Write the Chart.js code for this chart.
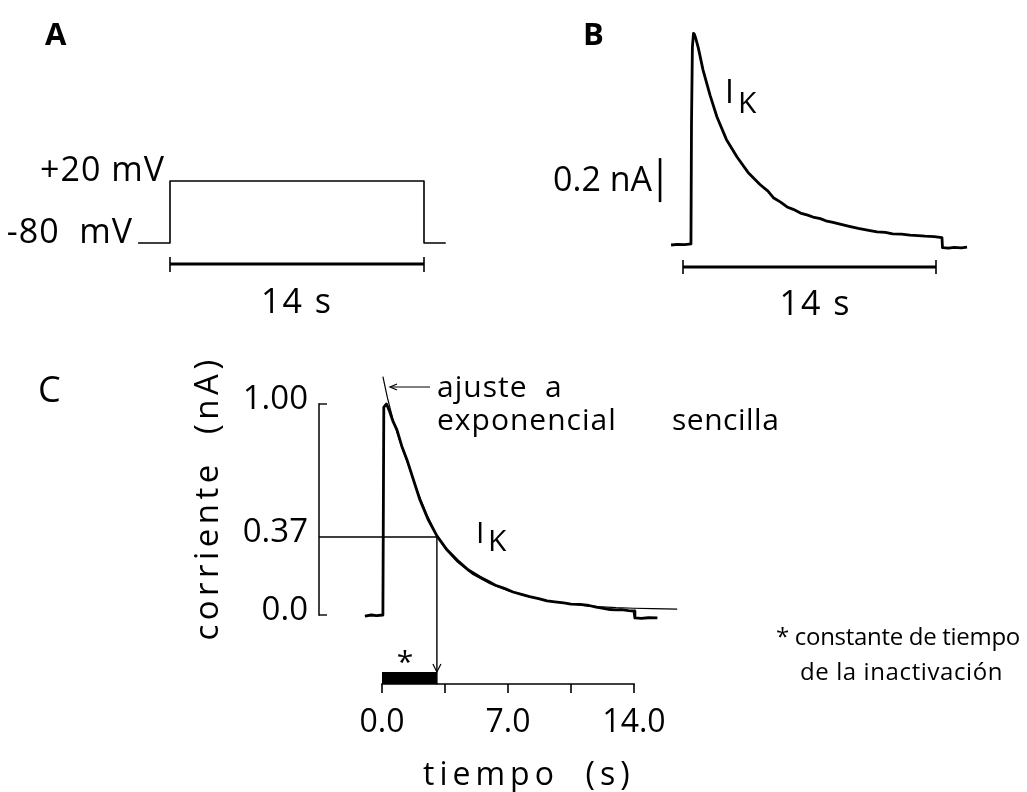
<!DOCTYPE html>
<html><head><meta charset="utf-8">
<script src="https://cdn.jsdelivr.net/npm/chart.js@4.4.1/dist/chart.umd.min.js"></script>
<style>html,body{margin:0;padding:0;background:#fff;} canvas{display:block;}</style>
</head><body>
<canvas id="fig" width="1027" height="792"></canvas>
<script>
// ================= DATA =================
// Panel A: voltage protocol (time in s, voltage in mV)
const stepTimeA = [-1.76, 0, 0, 14, 14, 15.2];
const stepVoltA = [-80, -80, 20, 20, -80, -80];
const stepLabelsA = ['+20 mV', '-80  mV'];
const durationLabel = '14 s';
const durationSec = 14;

// Panel B: current trace I_K (time in s, current in nA)
const traceTimeB = [-0.66, -0.3, 0.1, 0.44, 0.47, 0.52, 0.58, 0.63, 0.72, 0.85, 1.11, 1.5, 1.88, 2.4, 2.99, 3.6, 4.26, 4.7, 5.0, 5.4, 5.76, 6.1, 6.5, 6.9, 7.19, 7.6, 7.9, 8.3, 8.69, 9.2, 9.7, 10.2, 10.74, 11.2, 11.6, 12.1, 12.56, 13.0, 13.4, 13.9, 14.33, 14.36, 14.7, 15.0, 15.4, 15.72];
const traceCurrB = [0.0, 0.003, 0.002, 0.005, 0.55, 0.9, 0.962, 0.958, 0.935, 0.895, 0.795, 0.68, 0.582, 0.48, 0.40, 0.33, 0.275, 0.245, 0.215, 0.195, 0.173, 0.162, 0.145, 0.136, 0.127, 0.12, 0.11, 0.103, 0.095, 0.085, 0.076, 0.068, 0.06, 0.057, 0.051, 0.049, 0.045, 0.043, 0.04, 0.038, 0.034, -0.012, -0.014, -0.011, -0.013, -0.01];
const scaleBarB = 0.2;
const scaleBarLabelB = '0.2 nA';

// Panel C: normalised current and single exponential fit
const traceTimeC = [-0.95, -0.6, -0.3, 0.05, 0.1, 0.25, 0.4, 0.6, 0.83, 1.1, 1.39, 1.75, 2.11, 2.55, 3.05, 3.6, 4.17, 4.8, 5.44, 5.9, 6.3, 6.8, 7.28, 7.7, 8.2, 8.7, 9.17, 9.6, 10.1, 10.5, 11.0, 11.5, 11.9, 12.3, 12.67, 13.0, 13.3, 13.7, 14.0, 14.05, 14.4, 14.8, 15.3];
const traceCurrC = [-0.005, 0.0, -0.003, 0.0, 0.985, 1.0, 0.97, 0.92, 0.877, 0.80, 0.735, 0.64, 0.545, 0.455, 0.375, 0.31, 0.261, 0.213, 0.18, 0.16, 0.141, 0.126, 0.109, 0.099, 0.087, 0.078, 0.067, 0.062, 0.057, 0.052, 0.05, 0.045, 0.037, 0.031, 0.026, 0.024, 0.025, 0.021, 0.019, -0.014, -0.016, -0.013, -0.014];
const fitTimeC = [0.05, 0.3, 0.6, 1.0, 1.5, 2.0, 2.5, 3.05, 3.6, 4.2, 5.0, 6.0, 7.0, 8.0, 9.0, 10.0, 11.0, 12.0, 13.0, 14.0, 15.0, 16.4];
const fitCurrC = [1.13, 1.03, 0.93, 0.82, 0.70, 0.58, 0.475, 0.375, 0.305, 0.25, 0.195, 0.148, 0.115, 0.09, 0.07, 0.057, 0.047, 0.04, 0.035, 0.032, 0.03, 0.028];
const tauC = 3.05;
const levelC = 0.37;
const xTicksC = [0, 3.5, 7, 10.5, 14];
const xTickLabelsC = ['0.0', '', '7.0', '', '14.0'];
const yTicksC = [0, 0.37, 1.0];
const yTickLabelsC = ['0.0', '0.37', '1.00'];

// ================= LAYOUT =================
const W = 1027, H = 792;
function xRange(v0, p0, v1, p1) { const k = (p1 - p0) / (v1 - v0); const min = v0 - p0 / k; return { min, max: min + W / k }; }
function yRange(v0, p0, v1, p1) { const k = (p0 - p1) / (v1 - v0); const max = v0 + p0 / k; return { min: max - H / k, max }; }
const rAx = xRange(0, 170, 14, 424), rAy = yRange(-80, 243, 20, 181);
const rBx = xRange(0, 683, 14, 936), rBy = yRange(0, 245, 1, 25);
const rCx = xRange(0, 382, 14, 634), rCy = yRange(0, 615, 1, 404);
const cAxisVal = -(684 - 615) / (615 - 404);        // x-axis of C sits below zero
const cYAxisT = -(382 - 319) / ((634 - 382) / 14);  // y-axis of C sits left of t=0

const FONT = '"Open Sans", "DejaVu Sans", sans-serif';
const pts = (xs, ys) => xs.map((x, i) => ({ x, y: ys[i] }));
const lineDs = (data, xID, yID, w) => ({ data, xAxisID: xID, yAxisID: yID, borderColor: '#000', borderWidth: w,
  showLine: true, pointRadius: 0, fill: false, tension: 0, borderJoinStyle: 'round', borderCapStyle: 'butt' });

const hidden = (r, axis) => ({ type: 'linear', axis, display: false, min: r.min, max: r.max });

function txt(ctx, s, x, y, o) {
  o = o || {};
  ctx.save();
  ctx.font = (o.weight || 'normal') + ' ' + (o.size || 32) + 'px ' + FONT;
  ctx.fillStyle = '#000';
  ctx.textAlign = o.align || 'left';
  ctx.textBaseline = o.baseline || 'alphabetic';
  if ('letterSpacing' in ctx) ctx.letterSpacing = (o.spacing || 0) + 'px';
  if (o.rotate) { ctx.translate(x, y); ctx.rotate(o.rotate); ctx.fillText(s, 0, 0); }
  else ctx.fillText(s, x, y);
  ctx.restore();
}
function seg(ctx, x1, y1, x2, y2, w) {
  ctx.save(); ctx.strokeStyle = '#000'; ctx.lineWidth = w || 1.5; ctx.lineCap = 'butt';
  ctx.beginPath(); ctx.moveTo(x1, y1); ctx.lineTo(x2, y2); ctx.stroke(); ctx.restore();
}

const decor = {
  id: 'decor',
  afterDatasetsDraw(chart) {
    const ctx = chart.ctx, s = chart.scales;
    const xA = s.xA, yA = s.yA, xB = s.xB, yB = s.yB, xC = s.xC, yC = s.yC;

    // ---------- Panel A ----------
    txt(ctx, 'A', 45, 45, { size: 31, weight: 'bold' });
    const a0 = xA.getPixelForValue(0), a1 = xA.getPixelForValue(durationSec);
    const aBar = yA.getPixelForValue(-80) + 21;
    seg(ctx, a0, aBar, a1, aBar, 2.8);
    seg(ctx, a0, aBar - 7, a0, aBar + 8, 1.6); seg(ctx, a1, aBar - 7, a1, aBar + 8, 1.6);
    txt(ctx, durationLabel, (a0 + a1) / 2, 313, { size: 34, align: 'center', spacing: 2 });
    txt(ctx, stepLabelsA[0], xA.getPixelForValue(stepTimeA[1]) - 5, yA.getPixelForValue(20), { size: 34, align: 'right', spacing: 1 });
    txt(ctx, stepLabelsA[1], xA.getPixelForValue(stepTimeA[0]) - 5, yA.getPixelForValue(-80), { size: 34, align: 'right', spacing: 1 });

    // ---------- Panel B ----------
    txt(ctx, 'B', 583, 45, { size: 31, weight: 'bold' });
    const b0 = xB.getPixelForValue(0), b1 = xB.getPixelForValue(durationSec);
    const bBar = yB.getPixelForValue(0) + 22;
    seg(ctx, b0, bBar, b1, bBar, 2.8);
    seg(ctx, b0, bBar - 7, b0, bBar + 7, 1.6); seg(ctx, b1, bBar - 7, b1, bBar + 7, 1.6);
    txt(ctx, durationLabel, (b0 + b1) / 2 + 6, 315, { size: 34, align: 'center', spacing: 2 });
    const sbx = xB.getPixelForValue(-1.27);
    seg(ctx, sbx, yB.getPixelForValue(0.195), sbx, yB.getPixelForValue(0.195 + scaleBarB), 2.6);
    txt(ctx, scaleBarLabelB, sbx - 8, 191, { size: 34, align: 'right' });
    txt(ctx, 'I', 725, 103, { size: 32 });
    txt(ctx, 'K', 738, 113, { size: 30 });

    // ---------- Panel C ----------
    txt(ctx, 'C', 38, 402, { size: 36 });
    const axY = yC.getPixelForValue(cAxisVal);
    const c0 = xC.getPixelForValue(0), c1 = xC.getPixelForValue(14);
    seg(ctx, c0 - 0.8, axY, c1 + 0.8, axY, 1.6);
    xTicksC.forEach((t, i) => {
      const px = xC.getPixelForValue(t);
      seg(ctx, px, axY, px, axY + 9, 1.6);
      if (xTickLabelsC[i]) txt(ctx, xTickLabelsC[i], px, axY + 48, { size: 32, align: 'center' });
    });
    const yAxX = xC.getPixelForValue(cYAxisT);
    seg(ctx, yAxX, yC.getPixelForValue(0) + 0.7, yAxX, yC.getPixelForValue(1) - 0.7, 1.5);
    seg(ctx, yAxX, yC.getPixelForValue(0), yAxX + 8, yC.getPixelForValue(0), 1.4);
    seg(ctx, yAxX, yC.getPixelForValue(1), yAxX + 8, yC.getPixelForValue(1), 1.4);
    yTicksC.forEach((v, i) => txt(ctx, yTickLabelsC[i], yAxX - 11, yC.getPixelForValue(v) + 5, { size: 33, align: 'right' }));
    // black bar = time constant
    const tx = xC.getPixelForValue(tauC);
    ctx.save(); ctx.fillStyle = '#000'; ctx.fillRect(c0, axY - 12, tx - c0, 12); ctx.restore();
    // arrow head on tau line
    ctx.save(); ctx.strokeStyle = '#000'; ctx.lineWidth = 1.2; ctx.beginPath();
    ctx.moveTo(tx - 4, axY - 20); ctx.lineTo(tx, axY - 12); ctx.lineTo(tx + 4, axY - 20); ctx.stroke(); ctx.restore();
    txt(ctx, '*', 405, 672, { size: 30, align: 'center' });
    // axis titles
    txt(ctx, 'tiempo  (s)', 423, 785, { size: 32, spacing: 5 });
    txt(ctx, 'corriente  (nA)', 218, 498, { size: 33, spacing: 4.5, align: 'center', rotate: -Math.PI / 2 });
    // fit annotation
    const arY = 387;
    seg(ctx, 391, arY, 430, arY, 1.2);
    ctx.save(); ctx.strokeStyle = '#000'; ctx.lineWidth = 1.2; ctx.beginPath();
    ctx.moveTo(397, arY - 3); ctx.lineTo(390, arY); ctx.lineTo(397, arY + 3); ctx.stroke(); ctx.restore();
    txt(ctx, 'ajuste  a', 437, 397, { size: 30, spacing: 1 });
    txt(ctx, 'exponencial', 437, 430, { size: 30, spacing: 1 });
    txt(ctx, 'sencilla', 672, 430, { size: 30, spacing: 0.5 });
    txt(ctx, 'I', 476, 543, { size: 30 });
    txt(ctx, 'K', 488, 551, { size: 30 });
    // legend note
    txt(ctx, '* constante de tiempo', 776, 645, { size: 24, spacing: -0.3 });
    txt(ctx, 'de la inactivación', 800, 680, { size: 24, spacing: 0.6 });
  }
};

new Chart(document.getElementById('fig'), {
  type: 'scatter',
  data: {
    datasets: [
      lineDs(pts(stepTimeA, stepVoltA), 'xA', 'yA', 1.6),
      lineDs(pts(traceTimeB, traceCurrB), 'xB', 'yB', 2.8),
      lineDs(pts(fitTimeC, fitCurrC), 'xC', 'yC', 1.2),
      lineDs(pts(traceTimeC, traceCurrC), 'xC', 'yC', 2.8),
      lineDs([{ x: cYAxisT, y: levelC }, { x: tauC, y: levelC }, { x: tauC, y: cAxisVal }], 'xC', 'yC', 1.4)
    ]
  },
  options: {
    responsive: false, animation: false, events: [],
    layout: { padding: 0 },
    plugins: { legend: { display: false }, tooltip: { enabled: false }, title: { display: false } },
    scales: {
      xA: hidden(rAx, 'x'), yA: hidden(rAy, 'y'),
      xB: hidden(rBx, 'x'), yB: hidden(rBy, 'y'),
      xC: hidden(rCx, 'x'), yC: hidden(rCy, 'y')
    }
  },
  plugins: [decor]
});
</script>
</body></html>
